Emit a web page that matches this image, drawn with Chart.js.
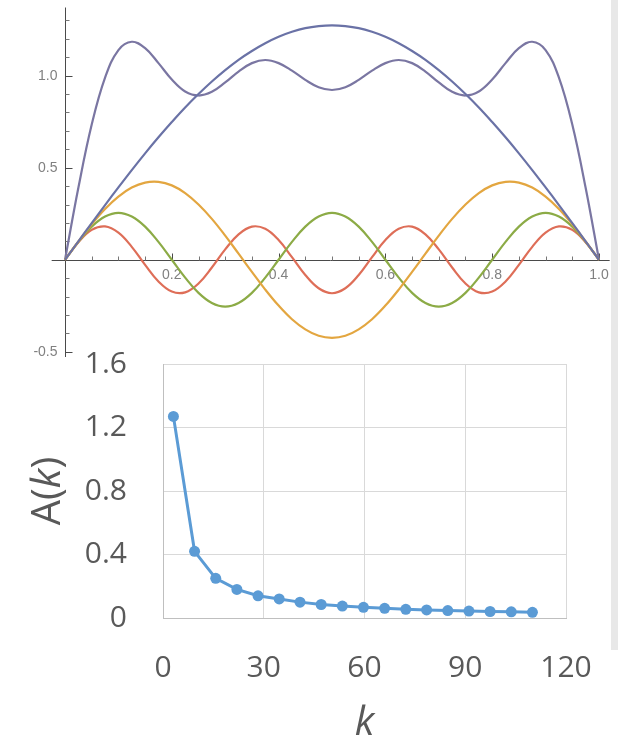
<!DOCTYPE html>
<html>
<head>
<meta charset="utf-8">
<script src="https://cdn.jsdelivr.net/npm/chart.js@4.4.1/dist/chart.umd.min.js"></script>
<style>
  html, body { margin: 0; padding: 0; background: #fff; }
  body { width: 618px; height: 742px; position: relative; overflow: hidden; }
  #top-wrap { position: absolute; left: 0; top: 0; width: 618px; height: 357px; overflow: hidden; }
  #bottom-wrap { position: absolute; left: 0; top: 340px; width: 618px; height: 402px; }
  #edge { position: absolute; left: 611px; top: 0; width: 7px; height: 650px; background: #e8e8e8; }
  canvas { display: block; }
</style>
</head>
<body>
<div id="top-wrap"><canvas id="series-chart" width="618" height="364"></canvas></div>
<div id="bottom-wrap"><canvas id="amp-chart" width="618" height="402"></canvas></div>
<div id="edge"></div>
<script>
(function () {
  // ---- top plot: the four harmonics and their sum, sampled along x ----
  var xSamples = [
    0, 0.025, 0.05, 0.075, 0.1, 0.125, 0.15, 0.175, 0.2, 0.225,
    0.25, 0.275, 0.3, 0.325, 0.35, 0.375, 0.4, 0.425, 0.45, 0.475,
    0.5, 0.525, 0.55, 0.575, 0.6, 0.625, 0.65, 0.675, 0.7, 0.725,
    0.75, 0.775, 0.8, 0.825, 0.85, 0.875, 0.9, 0.925, 0.95, 0.975, 1
  ];
  var term1 = [
    0, 0.100, 0.199, 0.297, 0.393, 0.487, 0.578, 0.665, 0.748, 0.827,
    0.900, 0.968, 1.030, 1.086, 1.134, 1.176, 1.211, 1.238, 1.258, 1.269,
    1.273, 1.269, 1.258, 1.238, 1.211, 1.176, 1.134, 1.086, 1.030, 0.968,
    0.900, 0.827, 0.748, 0.665, 0.578, 0.487, 0.393, 0.297, 0.199, 0.100, 0
  ];
  var term3 = [
    0, 0.099, 0.193, 0.276, 0.343, 0.392, 0.419, 0.423, 0.404, 0.362,
    0.300, 0.222, 0.131, 0.033, -0.066, -0.162, -0.249, -0.323, -0.378, -0.413,
    -0.424, -0.413, -0.378, -0.323, -0.249, -0.162, -0.066, 0.033, 0.131, 0.222,
    0.300, 0.362, 0.404, 0.423, 0.419, 0.392, 0.343, 0.276, 0.193, 0.099, 0
  ];
  var term5 = [
    0, 0.097, 0.180, 0.235, 0.255, 0.235, 0.180, 0.097, 0, -0.097,
    -0.180, -0.235, -0.255, -0.235, -0.180, -0.097, 0, 0.097, 0.180, 0.235,
    0.255, 0.235, 0.180, 0.097, 0, -0.097, -0.180, -0.235, -0.255, -0.235,
    -0.180, -0.097, 0, 0.097, 0.180, 0.235, 0.255, 0.235, 0.180, 0.097, 0
  ];
  var term7 = [
    0, 0.095, 0.162, 0.181, 0.147, 0.070, -0.028, -0.118, -0.173, -0.177,
    -0.129, -0.042, 0.056, 0.138, 0.180, 0.168, 0.107, 0.014, -0.083, -0.155,
    -0.182, -0.155, -0.083, 0.014, 0.107, 0.168, 0.180, 0.138, 0.056, -0.042,
    -0.129, -0.177, -0.173, -0.118, -0.028, 0.070, 0.147, 0.181, 0.162, 0.095, 0
  ];
  var partialSum = [
    0, 0.391, 0.734, 0.989, 1.139, 1.184, 1.149, 1.068, 0.979, 0.914,
    0.892, 0.912, 0.963, 1.022, 1.068, 1.085, 1.068, 1.027, 0.977, 0.937,
    0.922, 0.937, 0.977, 1.027, 1.068, 1.085, 1.068, 1.022, 0.963, 0.912,
    0.892, 0.914, 0.979, 1.068, 1.149, 1.184, 1.139, 0.989, 0.734, 0.391, 0
  ];

  var xMajorTicks = [0.2, 0.4, 0.6, 0.8, 1.0];
  var xMajorLabels = ['0.2', '0.4', '0.6', '0.8', '1.0'];
  var xMinorTicks = [0.05, 0.1, 0.15, 0.25, 0.3, 0.35, 0.45, 0.5, 0.55, 0.65, 0.7, 0.75, 0.85, 0.9, 0.95];
  var yMajorTicks = [-0.5, 0.5, 1.0];
  var yMajorLabels = ['-0.5', '0.5', '1.0'];
  var yMinorTicks = [-0.4, -0.3, -0.2, -0.1, 0.1, 0.2, 0.3, 0.4, 0.6, 0.7, 0.8, 0.9, 1.1, 1.2, 1.3];
  var xAxisSpan = [-0.025, 1.02];
  var yAxisSpan = [-0.53, 1.37];

  // ---- bottom plot: amplitude vs k ----
  var kValues = [3.1, 9.4, 15.7, 22.0, 28.3, 34.6, 40.8, 47.1, 53.4, 59.7, 66.0, 72.3, 78.5, 84.8, 91.1, 97.4, 103.7, 110.0];
  var aValues = [1.27, 0.42, 0.25, 0.18, 0.14, 0.12, 0.10, 0.085, 0.075, 0.067, 0.061, 0.055, 0.051, 0.047, 0.044, 0.041, 0.039, 0.036];
  var kTicks = [0, 30, 60, 90, 120];
  var aTicks = [0, 0.4, 0.8, 1.2, 1.6];
  var aTickLabels = ['0', '0.4', '0.8', '1.2', '1.6'];

  function curve(values, color) {
    return {
      data: xSamples.map(function (x, i) { return { x: x, y: values[i] }; }),
      showLine: true,
      borderColor: color,
      borderWidth: 2.2,
      pointRadius: 0,
      tension: 0.4,
      fill: false
    };
  }

  function px(v) {
    return Math.round(v) + 0.5;
  }

  var mathAxes = {
    id: 'mathAxes',
    beforeDatasetsDraw: function (chart) {
      var ctx = chart.ctx;
      var xs = chart.scales.x;
      var ys = chart.scales.y;
      var x0 = px(xs.getPixelForValue(0));
      var y0 = px(ys.getPixelForValue(0));
      ctx.save();
      ctx.lineWidth = 1;
      ctx.strokeStyle = '#4a4a4a';
      ctx.beginPath();
      ctx.moveTo(xs.getPixelForValue(xAxisSpan[0]), y0);
      ctx.lineTo(xs.getPixelForValue(xAxisSpan[1]), y0);
      ctx.moveTo(x0, ys.getPixelForValue(yAxisSpan[0]));
      ctx.lineTo(x0, ys.getPixelForValue(yAxisSpan[1]));
      ctx.stroke();

      ctx.strokeStyle = '#777';
      ctx.beginPath();
      xMinorTicks.forEach(function (v) {
        var p = px(xs.getPixelForValue(v));
        ctx.moveTo(p, y0);
        ctx.lineTo(p, y0 - 4);
      });
      yMinorTicks.forEach(function (v) {
        var p = px(ys.getPixelForValue(v));
        ctx.moveTo(x0, p);
        ctx.lineTo(x0 + 4, p);
      });
      ctx.stroke();

      ctx.strokeStyle = '#4a4a4a';
      ctx.beginPath();
      xMajorTicks.forEach(function (v) {
        var p = px(xs.getPixelForValue(v));
        ctx.moveTo(p, y0);
        ctx.lineTo(p, y0 - 7);
      });
      yMajorTicks.forEach(function (v) {
        var p = px(ys.getPixelForValue(v));
        ctx.moveTo(x0, p);
        ctx.lineTo(x0 + 7, p);
      });
      ctx.stroke();

      ctx.fillStyle = '#808080';
      ctx.font = '14px "Liberation Sans", Arial, sans-serif';
      ctx.textAlign = 'center';
      ctx.textBaseline = 'middle';
      xMajorTicks.forEach(function (v, i) {
        ctx.fillText(xMajorLabels[i], xs.getPixelForValue(v), y0 + 15);
      });
      ctx.textAlign = 'right';
      yMajorTicks.forEach(function (v, i) {
        ctx.fillText(yMajorLabels[i], x0 - 8, ys.getPixelForValue(v));
      });
      ctx.restore();
    }
  };

  new Chart(document.getElementById('series-chart'), {
    type: 'scatter',
    data: {
      datasets: [
        curve(term1, '#6a72a6'),
        curve(term3, '#e3a640'),
        curve(term5, '#8cab46'),
        curve(term7, '#de6e58'),
        curve(partialSum, '#7a76a2')
      ]
    },
    options: {
      responsive: false,
      animation: false,
      layout: { padding: { left: 49, right: 3, top: 2, bottom: 3 } },
      scales: {
        x: { type: 'linear', display: false, min: -0.03, max: 1.03 },
        y: { type: 'linear', display: false, min: -0.55, max: 1.4 }
      },
      plugins: {
        legend: { display: false },
        tooltip: { enabled: false }
      }
    },
    plugins: [mathAxes]
  });

  var textGray = '#595959';
  var yTitleParts = [['A(', 'normal'], ['k', 'italic'], [')', 'normal']];

  var richYTitle = {
    id: 'richYTitle',
    afterDraw: function (chart) {
      var ctx = chart.ctx;
      var area = chart.chartArea;
      ctx.save();
      ctx.translate(49, (area.top + area.bottom) / 2);
      ctx.rotate(-Math.PI / 2);
      ctx.fillStyle = textGray;
      ctx.textBaseline = 'middle';
      ctx.textAlign = 'left';
      var widths = yTitleParts.map(function (part) {
        ctx.font = part[1] + ' 40px "Open Sans", sans-serif';
        return ctx.measureText(part[0]).width;
      });
      var total = widths.reduce(function (a, b) { return a + b; }, 0);
      var cursor = -total / 2;
      yTitleParts.forEach(function (part, i) {
        ctx.font = part[1] + ' 40px "Open Sans", sans-serif';
        ctx.fillText(part[0], cursor, 0);
        cursor += widths[i];
      });
      ctx.restore();
    }
  };

  function fixBox(size, horizontal) {
    return function (scale) {
      if (horizontal) {
        scale.height = size;
      } else {
        scale.width = size;
      }
      scale.paddingTop = 0;
      scale.paddingBottom = 0;
      scale.paddingLeft = 0;
      scale.paddingRight = 0;
    };
  }

  new Chart(document.getElementById('amp-chart'), {
    type: 'scatter',
    data: {
      datasets: [{
        data: kValues.map(function (k, i) { return { x: k, y: aValues[i] }; }),
        showLine: true,
        borderColor: '#5b9bd5',
        backgroundColor: '#5b9bd5',
        borderWidth: 3,
        pointRadius: 5.5,
        pointBorderWidth: 0,
        tension: 0
      }]
    },
    options: {
      responsive: false,
      animation: false,
      layout: { padding: { left: 0, right: 52, top: 24, bottom: 0 } },
      scales: {
        x: {
          type: 'linear',
          min: 0,
          max: 120,
          afterBuildTicks: function (scale) {
            scale.ticks = kTicks.map(function (v) { return { value: v }; });
          },
          afterFit: fixBox(124, true),
          grid: { color: '#d9d9d9', drawTicks: false },
          border: { color: '#bfbfbf' },
          ticks: {
            padding: 32,
            color: textGray,
            maxRotation: 0,
            font: { family: '"Open Sans", sans-serif', size: 30 }
          },
          title: {
            display: true,
            text: 'k',
            color: textGray,
            padding: 0,
            font: { family: '"Open Sans", sans-serif', size: 40, style: 'italic', lineHeight: 0.9 }
          }
        },
        y: {
          type: 'linear',
          min: 0,
          max: 1.6,
          afterBuildTicks: function (scale) {
            scale.ticks = aTicks.map(function (v) { return { value: v }; });
          },
          afterFit: fixBox(163, false),
          grid: { color: '#d9d9d9', drawTicks: false },
          border: { color: '#bfbfbf' },
          ticks: {
            padding: 36,
            color: textGray,
            font: { family: '"Open Sans", sans-serif', size: 30 },
            callback: function (value) {
              var i = aTicks.indexOf(value);
              return i === -1 ? '' : aTickLabels[i];
            }
          }
        }
      },
      plugins: {
        legend: { display: false },
        tooltip: { enabled: false }
      }
    },
    plugins: [richYTitle]
  });
})();
</script>
</body>
</html>
